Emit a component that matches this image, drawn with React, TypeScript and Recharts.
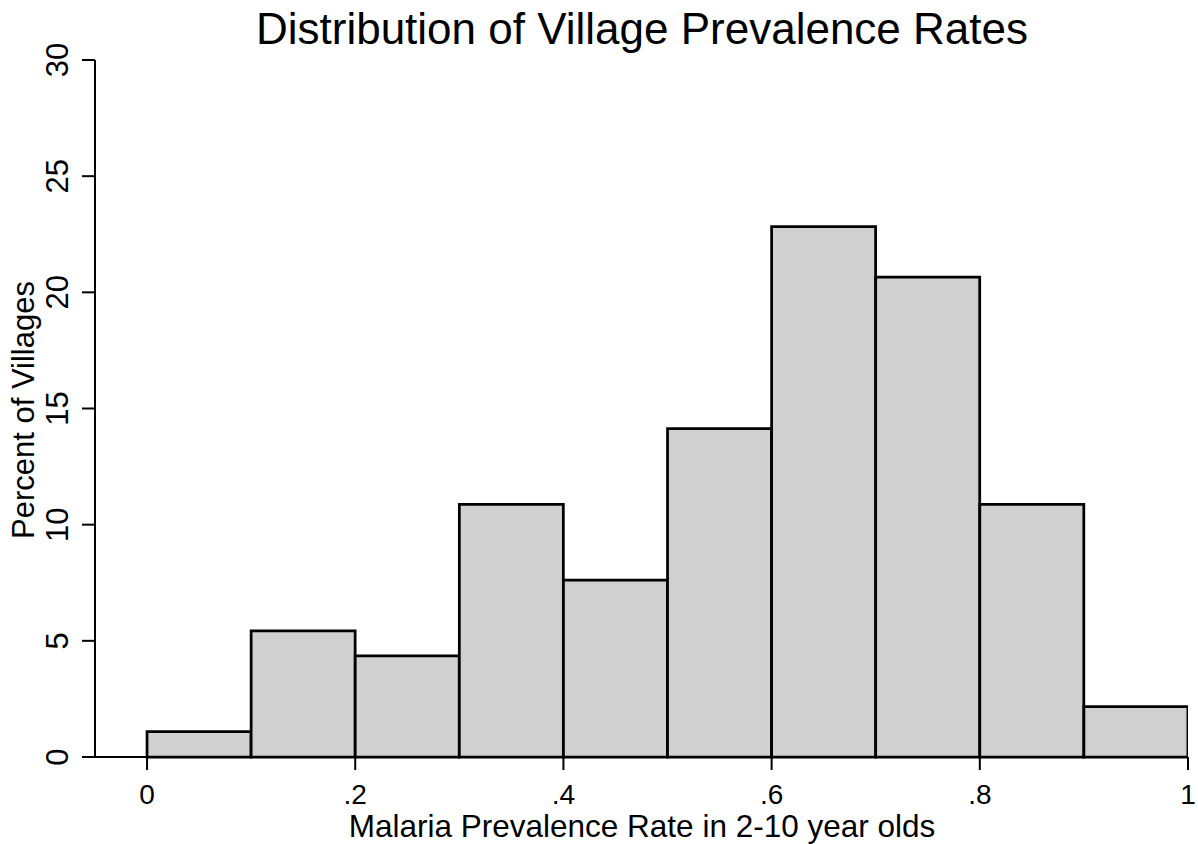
import React from 'react';
import { ComposedChart, Bar, XAxis, YAxis } from 'recharts';

const binCenters = [0.05, 0.15, 0.25, 0.35, 0.45, 0.55, 0.65, 0.75, 0.85, 0.95];
const percents = [1.09, 5.43, 4.35, 10.87, 7.61, 14.13, 22.83, 20.65, 10.87, 2.17];
const xTicks = [0, 0.2, 0.4, 0.6, 0.8, 1];
const xTickLabels = ['0', '.2', '.4', '.6', '.8', '1'];
const yTicks = [0, 5, 10, 15, 20, 25, 30];

const data = binCenters.map((x, i) => ({ x, pct: percents[i] }));

const FONT = 'Liberation Sans, Arial, Helvetica, sans-serif';

const YTick = (props: any) => {
  const { x, y, payload } = props;
  return (
    <text
      x={0}
      y={0}
      transform={`translate(${x - 12},${y}) rotate(-90)`}
      textAnchor="middle"
      fontFamily={FONT}
      fontSize={31}
      fill="#000"
    >
      {payload.value}
    </text>
  );
};

const XTick = (props: any) => {
  const { x, y, payload } = props;
  const idx = xTicks.indexOf(payload.value);
  return (
    <text x={x} y={y + 32} textAnchor="middle" fontFamily={FONT} fontSize={28} fill="#000">
      {idx >= 0 ? xTickLabels[idx] : payload.value}
    </text>
  );
};

export default function App() {
  return (
    <div style={{ position: 'absolute', left: 0, top: 0, width: 1198, height: 844, background: '#fff' }}>
      <ComposedChart
        width={1198}
        height={844}
        data={data}
        margin={{ top: 60, right: 10, bottom: 0, left: 0 }}
        barCategoryGap={0}
        barGap={0}
      >
        <text x={642} y={43.5} textAnchor="middle" fontFamily={FONT} fontSize={44} fill="#000">
          Distribution of Village Prevalence Rates
        </text>
        <text
          x={0}
          y={0}
          transform="translate(34,410) rotate(-90)"
          textAnchor="middle"
          fontFamily={FONT}
          fontSize={31}
          fill="#000"
        >
          Percent of Villages
        </text>
        <text x={642} y={837} textAnchor="middle" fontFamily={FONT} fontSize={31.5} fill="#000">
          Malaria Prevalence Rate in 2-10 year olds
        </text>
        <XAxis
          dataKey="x"
          type="number"
          domain={[-0.05, 1]}
          ticks={xTicks}
          allowDataOverflow
          height={87}
          tickSize={13}
          tick={<XTick />}
          stroke="#000"
          strokeWidth={2}
          interval={0}
        />
        <YAxis
          type="number"
          domain={[0, 30]}
          ticks={yTicks}
          width={95}
          tickSize={13}
          tick={<YTick />}
          stroke="#000"
          strokeWidth={2}
          interval={0}
        />
        <Bar
          dataKey="pct"
          fill="#d0d0d0"
          stroke="#000"
          strokeWidth={2.75}
          isAnimationActive={false}
        />
      </ComposedChart>
    </div>
  );
}
